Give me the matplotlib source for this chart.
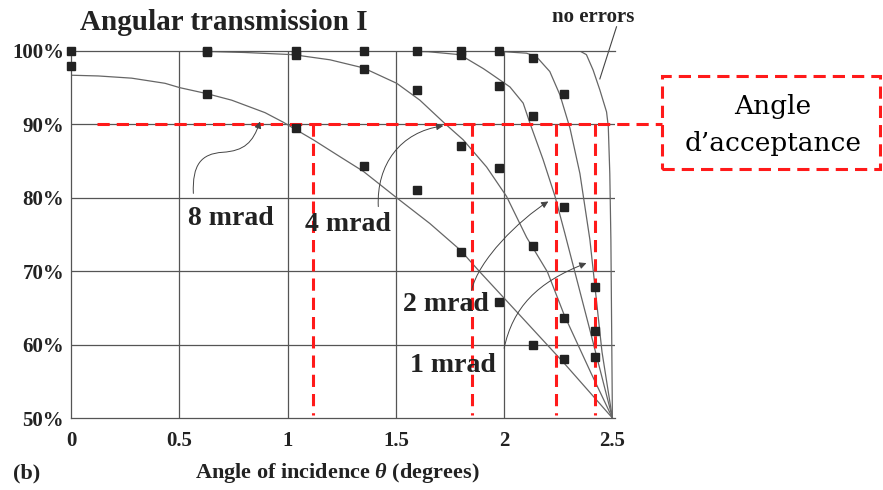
import numpy as np
import matplotlib.pyplot as plt
from matplotlib.patches import FancyArrowPatch, Rectangle
from matplotlib.path import Path

plt.rcParams['font.family'] = ['Liberation Serif', 'DejaVu Serif']
plt.rcParams['mathtext.fontset'] = 'custom'
plt.rcParams['mathtext.it'] = 'Liberation Serif:italic:bold'
plt.rcParams['mathtext.rm'] = 'Liberation Serif:bold'

# measured points (angle in degrees, transmission in %)
pts_x = [0, 0, 0.626, 0.626, 0.626,
         1.04, 1.04, 1.04,
         1.354, 1.354, 1.354,
         1.596, 1.596, 1.596,
         1.80, 1.80, 1.80, 1.80,
         1.976, 1.976, 1.976, 1.976,
         2.134, 2.134, 2.134, 2.134,
         2.278, 2.278, 2.278, 2.278,
         2.418, 2.418, 2.418]
pts_y = [100, 98, 100, 99.8, 94.2,
         100, 99.4, 89.5,
         100, 97.6, 84.4,
         100, 94.7, 81.0,
         100, 99.5, 87.0, 72.6,
         100, 95.2, 84.1, 65.8,
         99.0, 91.1, 73.5, 60.0,
         94.1, 78.7, 63.6, 58.0,
         67.9, 61.9, 58.3]

# simulated curves
c8_x = [0, 0.126, 0.28, 0.434, 0.503, 0.626, 0.742, 0.896, 0.98, 1.119, 1.242, 1.35, 1.504, 1.657, 1.797, 1.888, 2.073, 2.273, 2.5]
c8_y = [96.7, 96.6, 96.3, 95.6, 95.0, 94.2, 93.3, 91.6, 90.3, 87.9, 85.6, 83.6, 80.0, 76.5, 72.9, 69.9, 64.0, 57.6, 50]
c4_x = [0.55, 0.8, 1.026, 1.196, 1.35, 1.504, 1.611, 1.727, 1.811, 1.919, 2.011, 2.104, 2.2, 2.278, 2.4, 2.5]
c4_y = [100, 99.8, 99.5, 98.8, 97.7, 95.6, 93.3, 90.1, 87.9, 84.2, 80.2, 74.6, 69.9, 64.0, 56.2, 50]
c2_x = [1.5, 1.65, 1.796, 1.904, 1.934, 2.027, 2.088, 2.12, 2.18, 2.235, 2.28, 2.396, 2.5]
c2_y = [100, 99.9, 99.5, 97.6, 97.0, 95.1, 92.9, 90.1, 85.2, 80.2, 75.2, 62.0, 50]
c1_x = [1.95, 2.104, 2.15, 2.211, 2.258, 2.304, 2.35, 2.396, 2.452, 2.5]
c1_y = [100, 99.7, 99.2, 97.2, 94.0, 89.5, 83.3, 74.3, 59.0, 50]
c0_x = [2.35, 2.38, 2.411, 2.442, 2.473, 2.481, 2.488, 2.493, 2.5]
c0_y = [100, 99.5, 97.4, 94.7, 91.7, 89.7, 83.3, 74.3, 50]

acc_angles = [1.116, 1.853, 2.238, 2.42]
acc_level = 90

xticks = [0, 0.5, 1, 1.5, 2, 2.5]
xlabels = ['0', '0.5', '1', '1.5', '2', '2.5']
yticks = [50, 60, 70, 80, 90, 100]
ylabels = ['50%', '60%', '70%', '80%', '90%', '100%']

fig = plt.figure(figsize=(8.83, 4.9), dpi=100)
ax = fig.add_axes([71/883, 1-418/490, 544/883, 367/490])
ax.set_xlim(0, 2.512)
ax.set_ylim(50, 100)

gc = '#555555'
for v in xticks[1:-1]:
    ax.axvline(v, color=gc, lw=0.9, zorder=1)
for v in yticks[1:-1]:
    ax.axhline(v, color=gc, lw=0.9, zorder=1)
for s in ['left', 'bottom', 'top']:
    ax.spines[s].set_color(gc)
    ax.spines[s].set_linewidth(0.9)
ax.spines['right'].set_visible(False)

ax.set_xticks(xticks)
ax.set_xticklabels(xlabels, fontsize=15, fontweight='bold', color='#222222')
ax.set_yticks(yticks)
ax.set_yticklabels(ylabels, fontsize=15, fontweight='bold', color='#222222')
ax.tick_params(length=0)
ax.tick_params(axis='x', pad=9)
ax.tick_params(axis='y', pad=5)

cc = '#666666'
for cx, cy in [(c8_x, c8_y), (c4_x, c4_y), (c2_x, c2_y), (c1_x, c1_y), (c0_x, c0_y)]:
    ax.plot(cx, cy, color=cc, lw=0.9, zorder=2)

ax.plot(pts_x, pts_y, 's', color='#222222', ms=5.8, zorder=4, clip_on=False)

# acceptance lines
red = '#ff1a1a'
ax.plot([0.118, 2.729], [acc_level, acc_level], color=red, lw=2.2, dashes=[4, 2.3], clip_on=False, zorder=3)
for a in acc_angles:
    ax.plot([a, a], [acc_level, 50.4], color=red, lw=2.2, dashes=[4, 2.3], zorder=3)

box = Rectangle((662/883, 1-169/490), 218/883, 93/490, transform=fig.transFigure,
                fill=False, edgecolor=red, lw=2.2, linestyle=(0, (4, 2.3)))
fig.patches.append(box)
fig.text(773/883, 1-106/490, 'Angle', fontsize=19, ha='center', va='center', family='DejaVu Serif')
fig.text(773/883, 1-143/490, 'd\u2019acceptance', fontsize=19, ha='center', va='center', family='DejaVu Serif')

# labels on curves
lab = dict(fontsize=20, fontweight='bold', color='#222222', ha='center', va='center', zorder=5)
ax.text(0.739, 77.2, '8 mrad', **lab)
ax.text(1.277, 76.3, '4 mrad', **lab)
ax.text(1.732, 65.4, '2 mrad', **lab)
ax.text(1.762, 57.2, '1 mrad', **lab)

def curved_arrow(verts):
    codes = [Path.MOVETO] + [Path.CURVE4] * (len(verts) - 1)
    p = FancyArrowPatch(path=Path(verts, codes), arrowstyle='-|>,head_length=4,head_width=2',
                        color='#444444', lw=0.7, zorder=5)
    ax.add_patch(p)

curved_arrow([(0.565, 80.6), (0.56, 84.5), (0.60, 86.0), (0.70, 86.2),
              (0.80, 86.4), (0.84, 87.5), (0.873, 90.4)])
curved_arrow([(1.419, 78.8), (1.41, 84.5), (1.52, 89.0), (1.719, 89.8)])
curved_arrow([(1.85, 67.4), (1.88, 71.5), (2.07, 77.0), (2.204, 79.5)])
curved_arrow([(2.0, 59.5), (2.04, 65.0), (2.15, 68.5), (2.38, 71.1)])

ax.plot([2.519, 2.442], [103.3, 96.2], color='#444444', lw=0.8, clip_on=False)

fig.text(80/883, 1-30/490, 'Angular transmission I', fontsize=21, fontweight='bold', color='#222222')
fig.text(552/883, 1-22/490, 'no errors', fontsize=15, fontweight='bold', color='#222222')
fig.text(13/883, 1-478/490, '(b)', fontsize=16, fontweight='bold', color='#222222')
fig.text(195/883, 1-478/490, r'Angle of incidence $\theta$ (degrees)', fontsize=16,
         fontweight='bold', color='#222222')

fig.savefig('out.png', dpi=100)
